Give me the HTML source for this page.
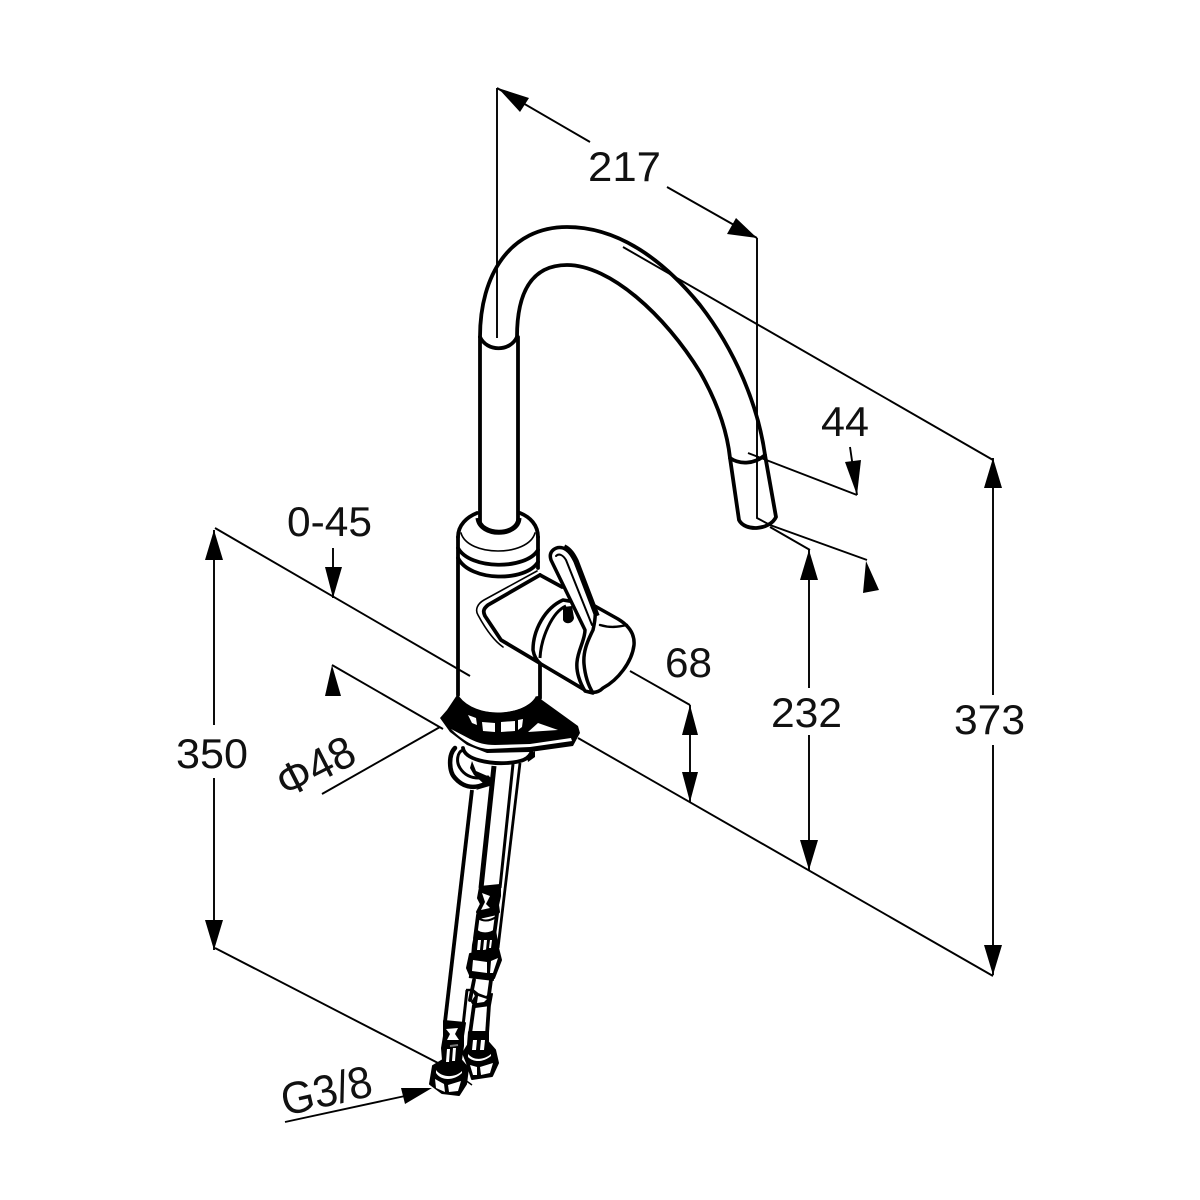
<!DOCTYPE html>
<html>
<head>
<meta charset="utf-8">
<style>
html,body{margin:0;padding:0;background:#fff}
svg{display:block}
text{font-family:"Liberation Sans",sans-serif;font-size:42px;fill:#111}
.k{fill:none;stroke:#000;stroke-width:3.8;stroke-linecap:round;stroke-linejoin:round}
.t{fill:none;stroke:#000;stroke-width:1.6;stroke-linecap:round}
.d{fill:none;stroke:#000;stroke-width:1.9}
.w{fill:#fff;stroke:#000;stroke-width:3.5;stroke-linejoin:round}
.b{fill:#000;stroke:none}
.f{fill:#fff;stroke:none}
.h{fill:#000;stroke:#000;stroke-width:2;stroke-linejoin:round}
</style>
</head>
<body>
<svg width="1200" height="1200" viewBox="0 0 1200 1200" xmlns="http://www.w3.org/2000/svg">
<rect width="1200" height="1200" fill="#fff"/>

<!-- spout -->
<path class="k" d="M480 337C480 275 510 227 567 227C620 227 665 262 700 305C735 350 758 405 765 455"/>
<path class="k" d="M517 337C517 295 530 265 567 265C610 265 665 315 700 372C716 400 727 430 730 458"/>
<path class="k" d="M480 337C487 352 510 352 517 337"/>
<path class="k" d="M480 337V522M518 337V522"/>
<path class="k" d="M730 458C740 465 755 464 765 455L776 517C770 530 745 532 739 520L730 458"/>

<!-- body -->
<path class="k" d="M458 537C458 525 467 517 477 513M538 537C538 525 530 517 520 513"/>
<path d="M478 518C480 537 518 537 519 518" fill="none" stroke="#000" stroke-width="5"/>
<path class="t" d="M461 533C468 557 528 557 535 533"/>
<path class="k" d="M458 548C470 570 526 570 538 550"/>
<path class="k" d="M458 558C470 582 526 582 538 562"/>
<path class="k" d="M458 537V695"/>
<path class="k" d="M538 537V568M540 663V698"/>
<path class="k" d="M458 698C475 720 522 720 538 698"/>

<!-- hub -->
<path class="t" d="M537 571L484 600C477 604 475 610 478 615C485 628 493 640 503 647"/>
<path class="k" d="M540 575L488 605C483 609 483 612 485 616L501 640L585 690"/>
<path class="k" d="M540 575L562 587"/>

<!-- cap -->
<path class="w" d="M563 600C545 608 533 630 533 650C534 656 537 661 541 664L585 690C590 693 597 694 603 688C618 680 632 662 634 645C635 633 628 625 618 619L593 605Z"/>
<path d="M566 606C552 612 541 638 540 658" fill="none" stroke="#000" stroke-width="3"/>
<path class="k" d="M600 625C610 628 618 627 627 625" style="stroke-width:2.4"/>
<path class="b" d="M563 607L572 606L574 618C573 624 565 625 563 620Z"/>

<!-- handle -->
<path class="w" d="M551 560C548 551 556 546 563 548C569 550 572 555 575 561L595 610C596 618 594 625 593 630C587 642 583 652 584 664C585 675 588 685 593 693L585 691C580 683 576 672 577 662C578 650 585 640 585 630Z"/>
<path d="M564 547C570 550 573 555 576 561L597 616" fill="none" stroke="#000" stroke-width="5.5"/>
<path class="t" d="M556 556C559 553 563 555 566 560L592 625" style="stroke-width:2"/>

<!-- base -->
<path class="b" d="M457 695L447 710L440 718L450 732L467 745L487 753L530 752L573 746L580 733L578 726L542 700L536 696C525 718 470 718 458 696Z"/>
<path class="f" d="M451 729L470 739C478 743 485 745 495 745L530 744L571 738L572 741L530 747L488 749C475 748 462 740 451 729Z"/>
<path class="f" d="M468 715L476 718L477 725L472 723Z"/>
<path class="f" d="M482 722L495 723V732L483 731Z"/>
<path class="f" d="M501 722L515 721V731L501 732Z"/>
<path class="f" d="M518 720L523 719L522 727L518 730Z"/>
<path class="f" d="M528 732L538 723L558 730Z"/>

<!-- clip & collar -->
<path class="k" d="M463 748C465 760 490 764 507 763C520 762 530 760 532 750"/>
<path class="k" d="M455 748C448 755 449 772 455 778C462 786 472 790 485 784" style="stroke-width:4.5"/>
<path class="k" d="M463 750C457 752 456 762 460 768C465 776 474 780 488 777" style="stroke-width:3"/>
<path class="b" d="M472 761L476 771L492 778L493 785L476 790L483 783L474 775L470 768Z"/>
<path class="b" d="M527 757L535 751L535 757L528 762Z"/>

<!-- pipes -->
<path d="M472 790L445 1022" fill="none" stroke="#000" stroke-width="3.8"/>
<path d="M494 766L481 888" fill="none" stroke="#000" stroke-width="5"/>
<path d="M513 764L500 888" fill="none" stroke="#000" stroke-width="3"/>
<path d="M520 763L498 948" fill="none" stroke="#000" stroke-width="2.8"/>
<path d="M467 990L463 1026" fill="none" stroke="#000" stroke-width="3"/>
<path d="M466 990H471" fill="none" stroke="#000" stroke-width="2.4"/>

<!-- upper fitting -->
<path class="h" d="M480 887L500 885L500 896L498 905L499 912L497 914L479 918L477 912L481 904L478 898Z"/>
<path class="f" d="M482 893L490 896L486 904L490 908L481 910L485 902Z"/>
<path class="k" d="M478 915L475 938M497 914L494 936"/>
<path d="M478 918C484 922 490 921 496 917" fill="none" stroke="#000" stroke-width="2"/>
<path class="h" d="M476 930C481 935 490 934 495 930L498 948L498 956L472 958L473 945Z"/>
<path class="f" d="M478 940L481 940L480 950H477ZM484 940L487 940L486 950H483ZM490 940L492 940L491 948H489Z"/>
<path class="h" d="M470 954L498 948L501 960L494 978L470 975L467 968Z"/>
<path class="f" d="M473 960L487 962L487 973L472 971ZM491 961L498 958L493 973L490 973Z"/>
<path d="M469 976L494 979" fill="none" stroke="#000" stroke-width="4"/>
<path class="k" d="M491 980L488 1002M474 980L470 1000"/>
<path class="h" d="M473 990L476 996L472 1002L475 1007L490 1005L492 994L486 997L478 994Z"/>
<path class="f" d="M478 996L487 999L484 1002L477 1003Z"/>
<path d="M489 1005L487 1034" stroke="#000" stroke-width="3.8"/>
<path d="M474 1005L470 1034" stroke="#000" stroke-width="3.8"/>

<!-- right nut -->
<path class="h" d="M469 1032L488 1032L488 1042L495 1050L498 1063L492 1076L472 1079L467 1063L463 1053L468 1045Z"/>
<path class="f" d="M473 1040L477 1040L476 1050H472ZM481 1040L485 1040L484 1050H480Z"/>
<path class="f" d="M470 1065L477 1067L477 1075L473 1075ZM480 1067L493 1063L490 1073L481 1075Z"/>
<path class="f" d="M468 1054C474 1061 484 1060 491 1054L491 1056C484 1062 474 1063 468 1057Z"/>

<!-- left fitting -->
<path class="h" d="M444 1021L465 1023L463 1036L463 1046L461 1060L468 1068L466 1084L459 1095L442 1093L430 1084L433 1066L443 1060L442 1048L444 1036Z"/>
<path class="f" d="M446 1029L458 1028L455 1034L459 1040L447 1040L450 1034Z"/>
<path class="f" d="M447 1049L450 1049L449 1062H446ZM453 1048L456 1048L455 1061H452Z"/>
<path class="f" d="M435 1079L444 1084L445 1092L436 1088ZM448 1085L461 1081L458 1091L449 1092Z"/>
<path class="f" d="M436 1070C442 1078 455 1078 462 1071L462 1073C454 1081 441 1081 436 1073Z"/>
<path d="M450 1046L458 1045" fill="none" stroke="#777" stroke-width="2"/>
<path d="M461 1077L472 1085" fill="none" stroke="#000" stroke-width="1.4"/>

<!-- dimension lines -->
<path class="d" d="M497 88V338"/>
<path class="d" d="M497 88L590 142M667 187L757 238"/>
<path class="d" d="M757 238V518L770 525L867 560"/>
<path class="d" d="M770 527L810 550"/>
<path class="d" d="M623 247L993 460"/>
<path class="d" d="M748 453L857 495"/>
<path class="d" d="M215 528L470 676"/>
<path class="d" d="M578 738L993 976"/>
<path class="d" d="M332 665L443 729"/>
<path class="d" d="M322 794L440 727"/>
<path class="d" d="M630 671L690 705"/>
<path class="d" d="M215 948L438 1063"/>
<path class="d" d="M285 1122L405 1096"/>
<path class="d" d="M993 458V695M993 745V975"/>
<path class="d" d="M809 550V688M809 735V870"/>
<path class="d" d="M214 530V725M214 778V950"/>
<path class="d" d="M690 705V802"/>
<path class="d" d="M333 548V598"/>
<path class="d" d="M850 447L857 495"/>

<!-- arrowheads -->
<path class="b" d="M498 88L529 98L520 112Z"/>
<path class="b" d="M757 238L727 234L736 218Z"/>
<path class="b" d="M857 495L845 462L861 460Z"/>
<path class="b" d="M866 561L863 593L879 590Z"/>
<path class="b" d="M809 550L800 580H818Z"/>
<path class="b" d="M809 870L800 840H818Z"/>
<path class="b" d="M993 458L984 488H1002Z"/>
<path class="b" d="M993 975L984 945H1002Z"/>
<path class="b" d="M214 530L205 560H223Z"/>
<path class="b" d="M214 950L205 920H223Z"/>
<path class="b" d="M690 705L682 735H698Z"/>
<path class="b" d="M690 802L682 772H698Z"/>
<path class="b" d="M333 598L325 567H342Z"/>
<path class="b" d="M332 665L325 696H341Z"/>
<path class="b" d="M432 1088L401 1088L405 1104Z"/>

<!-- labels -->
<text x="588" y="181" textLength="73" lengthAdjust="spacingAndGlyphs">217</text>
<text x="821" y="436" textLength="48" lengthAdjust="spacingAndGlyphs">44</text>
<text x="954" y="734" textLength="71" lengthAdjust="spacingAndGlyphs">373</text>
<text x="771" y="727" textLength="71" lengthAdjust="spacingAndGlyphs">232</text>
<text x="665" y="677" textLength="47" lengthAdjust="spacingAndGlyphs">68</text>
<text x="287" y="536" textLength="85" lengthAdjust="spacingAndGlyphs">0-45</text>
<text x="176" y="768" textLength="72" lengthAdjust="spacingAndGlyphs">350</text>
<text transform="translate(286 799) rotate(-27)" style="font-size:45px" textLength="82" lengthAdjust="spacingAndGlyphs">Φ48</text>
<text transform="translate(285 1116) rotate(-13)" style="font-size:45px" textLength="92" lengthAdjust="spacingAndGlyphs">G3/8</text>
</svg>
</body>
</html>
